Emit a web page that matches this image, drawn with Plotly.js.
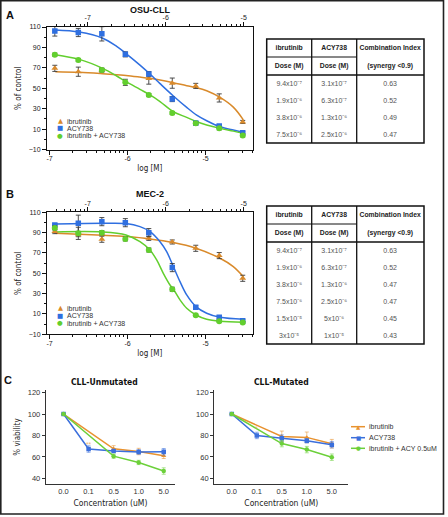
<!DOCTYPE html>
<html><head><meta charset="utf-8">
<script src="https://cdn.plot.ly/plotly-3.0.1.min.js"></script>
<style>html,body{margin:0;padding:0;background:#fff}#chart{width:448px;height:517px}</style>
</head><body><div id="chart"></div>
<script>
// ---------------- DATA ----------------
// ibrutinib dose levels (M) used in panels A and B (bottom axis, log scale)
const doseM = [1.17e-7, 2.34e-7, 4.69e-7, 9.38e-7, 1.875e-6, 3.75e-6, 7.5e-6, 1.5e-5, 3e-5];
const seriesNames = ['ibrutinib', 'ACY738', 'ibrutinib + ACY738'];

// Panel A: OSU-CLL (% of control)
const osuIbr = [69.5, 66.2, 67.8, null, 59.5, 55, 52.3, 40.5, 17];
const osuIbrErr = [3, 4.5, 2, 0, 5.5, 5, 2.5, 4, 1.5];
const osuAcy = [106.1, 104.6, 103.3, 83.2, 63.9, 39.4, 16, 12.9, 6.4];
const osuAcyErr = [5, 4, 7, 2.5, 2.5, 2.5, 1, 1.5, 1];
const osuCombo = [82.9, 77.6, 67.8, 55.8, 43.3, 25.7, 15.6, 10.7, 3.8];
const osuComboErr = [1.5, 1.5, 1.5, 3, 1.5, 1.5, 1.5, 1.5, 1.5];
// fitted curves (x in log10 M)
const osuFitX = [-6.925, -6.618, -6.318, -6.139, -6.019, -5.840, -5.712, -5.583, -5.412, -5.241, -5.113, -4.985, -4.814, -4.644, -4.515];
const osuIbrFit = [66.2, 65.6, 64.2, 63.2, 62.6, 61, 59.7, 58, 55.4, 52.5, 50.5, 47.5, 41, 31.5, 19];
const osuAcyFit = [107, 105, 99, 91, 84, 72.7, 63.9, 54.5, 42.4, 31.2, 23.7, 18.2, 12.3, 9, 7];
const osuComboFit = [82.9, 78.3, 69.5, 62, 56.4, 48.9, 43.5, 37, 27, 21.5, 17.2, 14, 10.7, 8, 5.8];

// Panel B: MEC-2
const mecIbr = [91, 88, 83.5, null, 84.4, 80.8, 74.6, 67.4, 45.1];
const mecIbrErr = [2, 2, 3, 0, 2, 2, 3, 3, 3];
const mecAcy = [97.5, 99.2, 100.8, 99.8, 90, 55.6, 16.6, 6.7, 3.4];
const mecAcyErr = [1, 8, 4, 4, 4, 4, 1.5, 1.5, 1];
const mecCombo = [94.6, 89.3, 90, 83.8, 72.9, 34.3, 8.7, 2.8, 1.5];
const mecComboErr = [2, 6, 2, 2, 2, 2, 1, 1, 1];
const mecIbrFitX = [-6.925, -6.618, -6.318, -6.019, -5.712, -5.412, -5.122, -4.814, -4.644, -4.515];
const mecIbrFit = [89.3, 88.4, 87.4, 86.1, 83.8, 80.2, 74.6, 64.8, 56.6, 46.7];
const mecAcyFitX = [-6.925, -6.318, -6.019, -5.840, -5.712, -5.583, -5.498, -5.412, -5.327, -5.241, -5.122, -4.985, -4.814, -4.515];
const mecAcyFit = [98.5, 99.2, 98.9, 95.9, 91, 81.1, 71.3, 56.6, 41.8, 28.7, 17.2, 10.7, 6.7, 4.8];
const mecComboFitX = [-6.925, -6.318, -6.019, -5.840, -5.712, -5.626, -5.541, -5.455, -5.412, -5.327, -5.241, -5.122, -4.985, -4.814, -4.515];
const mecComboFit = [90.7, 90.7, 87.7, 81.1, 72.9, 63.1, 50, 38.5, 34.3, 23.8, 15.6, 9, 4.8, 2.8, 1.8];

// Tables (combination index)
const tabHeadCol1 = ['ibrutinib', 'Dose\u00A0(M)'];
const tabHeadCol2 = ['ACY738', 'Dose\u00A0(M)'];
const tabHeadCol3 = ['Combination\u00A0Index', '(synergy\u00A0'];
const tabHeadSuffix3 = ['', '<0.9)'];
const osuTabIbr = ['9.4x10\u207B\u2077', '1.9x10\u207B\u2076', '3.8x10\u207B\u2076', '7.5x10\u207B\u2076'];
const osuTabAcy = ['3.1x10\u207B\u2077', '6.3x10\u207B\u2077', '1.3x10\u207B\u2076', '2.5x10\u207B\u2076'];
const osuTabCI = ['0.63', '0.52', '0.49', '0.47'];
const mecTabIbr = ['9.4x10\u207B\u2077', '1.9x10\u207B\u2076', '3.8x10\u207B\u2076', '7.5x10\u207B\u2076', '1.5x10\u207B\u2075', '3x10\u207B\u2075'];
const mecTabAcy = ['3.1x10\u207B\u2077', '6.3x10\u207B\u2077', '1.3x10\u207B\u2076', '2.5x10\u207B\u2076', '5x10\u207B\u2076', '1x10\u207B\u2075'];
const mecTabCI = ['0.63', '0.52', '0.47', '0.47', '0.45', '0.43'];

// Panel C: % viability vs concentration (uM)
const concLabels = ['0.0', '0.1', '0.5', '1.0', '5.0'];
const cNames = ['ibrutinib', 'ACY738', 'ibrutinib + ACY 0.5uM'];
const unmutIbr = [100, null, 67.5, 65, 61];
const unmutIbrErr = [0, 0, 3, 3, 2.5];
const unmutAcy = [100, 67.3, 65.5, 64.6, 64.8];
const unmutAcyErr = [0, 3, 0, 2, 3];
const unmutCombo = [100, null, 60.7, 54.8, 46.8];
const unmutComboErr = [0, 0, 2, 2, 3];
const mutIbr = [100, null, 79.1, 78.2, 72.3];
const mutIbrErr = [0, 0, 5, 5, 4];
const mutAcy = [100, 80, 77.5, 75, 71.4];
const mutAcyErr = [0, 3, 3, 2, 3];
const mutCombo = [100, null, 72.4, 66.8, 59.7];
const mutComboErr = [0, 0, 3, 3, 3];
// significance marks
const unmutSigX = ['1.0', '5.0', '5.0'];
const unmutSigY = [71.4, 79, 73.8];
const unmutSigTxt = ['**', '**', '**'];
const mutSigX = ['1.0', '5.0', '5.0'];
const mutSigY = [86.8, 90.5, 81.2];
const mutSigTxt = ['*', '*', '*'];
const sigSeries = [0, 0, 1];

// ---------------- STYLE / LAYOUT ----------------
const W = 448, H = 517;
const px = x => x / W;
const py = y => 1 - y / H;
const ORANGE = '#d98a2b', BLUE = '#2f6fe0', GREEN = '#62cf2e';
const C_ORANGE = '#e8922f', C_BLUE = '#3b6fdc', C_GREEN = '#6cd03a';
const C_ORANGE_L = 'rgba(232,146,47,0.55)', C_BLUE_L = 'rgba(59,111,220,0.55)', C_GREEN_L = 'rgba(108,208,58,0.55)';
const FONT = 'Liberation Sans, Arial, sans-serif';
const NARROW = 'Liberation Sans Narrow, DejaVu Sans Condensed, Liberation Sans, sans-serif';
const logDose = doseM.map(v => Math.log10(v));
const topShift = 0.49; // ACY738 axis offset (ibrutinib : ACY738 = 3 : 1)

const minorLog = [];
for (let n = -9; n <= -4; n++) for (let k = 2; k <= 9; k++) minorLog.push(n + Math.log10(k));

const traces = [];
function addDosePanel(xa, ya, fits, pts) {
  const cols = [ORANGE, BLUE, GREEN];
  fits.forEach((f, i) => traces.push({
    type: 'scatter', mode: 'lines', x: f[0], y: f[1], xaxis: xa, yaxis: ya,
    line: {color: cols[i], width: 1.5, shape: 'spline', smoothing: 1},
    showlegend: false, hoverinfo: 'skip'
  }));
  const syms = ['triangle-up', 'square', 'circle'];
  const sizes = [6, 5.5, 6];
  pts.forEach((p, i) => traces.push({
    type: 'scatter', mode: 'markers', x: logDose, y: p[0], name: seriesNames[i],
    xaxis: xa, yaxis: ya,
    marker: {symbol: syms[i], size: sizes[i], color: cols[i]},
    error_y: {type: 'data', array: p[1], visible: true, color: '#3a3a3a', thickness: 0.9, width: 2.5},
    showlegend: false
  }));
}
addDosePanel('x', 'y',
  [[osuFitX, osuIbrFit], [osuFitX, osuAcyFit], [osuFitX, osuComboFit]],
  [[osuIbr, osuIbrErr], [osuAcy, osuAcyErr], [osuCombo, osuComboErr]]);
addDosePanel('x3', 'y2',
  [[mecIbrFitX, mecIbrFit], [mecAcyFitX, mecAcyFit], [mecComboFitX, mecComboFit]],
  [[mecIbr, mecIbrErr], [mecAcy, mecAcyErr], [mecCombo, mecComboErr]]);
// anchors for top (ACY738) axes
traces.push({type: 'scatter', x: [], y: [], xaxis: 'x2', yaxis: 'y', showlegend: false, hoverinfo: 'skip'});
traces.push({type: 'scatter', x: [], y: [], xaxis: 'x4', yaxis: 'y2', showlegend: false, hoverinfo: 'skip'});

function addConcPanel(xa, ya, ser) {
  const cols = [C_ORANGE, C_BLUE, C_GREEN];
  const lcols = [C_ORANGE_L, C_BLUE_L, C_GREEN_L];
  const syms = ['triangle-up', 'square', 'circle'];
  ser.forEach((s, i) => traces.push({
    type: 'scatter', mode: 'lines+markers', x: concLabels, y: s[0], name: cNames[i],
    xaxis: xa, yaxis: ya, connectgaps: true,
    line: {color: cols[i], width: 1.5},
    marker: {symbol: syms[i], size: 4.5, color: cols[i]},
    error_y: {type: 'data', array: s[1], visible: true, color: lcols[i], thickness: 1, width: 2},
    showlegend: false
  }));
}
addConcPanel('x5', 'y3', [[unmutIbr, unmutIbrErr], [unmutAcy, unmutAcyErr], [unmutCombo, unmutComboErr]]);
addConcPanel('x6', 'y4', [[mutIbr, mutIbrErr], [mutAcy, mutAcyErr], [mutCombo, mutComboErr]]);

// tables
const TAB = {x0: 266.7, x1: 424, head: 18, row: 17, cw: [45, 45, 67.3], textShift: 2.3};
function addTable(y0, c1, c2, c3) {
  const y1 = y0 + 2 * TAB.head + c1.length * TAB.row;
  traces.push({
    type: 'table',
    domain: {x: [px(TAB.x0), px(TAB.x1)], y: [py(y1 + 3 - TAB.textShift), py(y0 - TAB.textShift)]},
    columnwidth: TAB.cw,
    header: {
      values: [tabHeadCol1, tabHeadCol2, tabHeadCol3],
      suffix: [['', ''], ['', ''], tabHeadSuffix3],
      height: TAB.head, align: 'center',
      font: {family: FONT, size: 6.8, color: '#222', weight: 'bold'},
      fill: {color: 'rgba(0,0,0,0)'}, line: {width: 0, color: 'rgba(0,0,0,0)'}
    },
    cells: {
      values: [c1, c2, c3], height: TAB.row, align: 'center',
      font: {family: FONT, size: 7, color: '#555'},
      fill: {color: 'rgba(0,0,0,0)'}, line: {width: 0, color: 'rgba(0,0,0,0)'}
    }
  });
  return y1;
}
const tabAy0 = 39, tabBy0 = 206;
const tabAy1 = addTable(tabAy0, osuTabIbr, osuTabAcy, osuTabCI);
const tabBy1 = addTable(tabBy0, mecTabIbr, mecTabAcy, mecTabCI);

const shapes = [];
function tableLines(y0, y1) {
  const xa = TAB.x0, xb = TAB.x0 + TAB.cw[0], xc = xb + TAB.cw[1], xd = TAB.x1;
  const L = (x0, ya, x1, yb, w) => shapes.push({type: 'line', xref: 'paper', yref: 'paper',
    x0: px(x0), y0: py(ya), x1: px(x1), y1: py(yb), line: {color: '#111', width: w}});
  shapes.push({type: 'rect', xref: 'paper', yref: 'paper', x0: px(xa), x1: px(xd), y0: py(y0), y1: py(y1),
    line: {color: '#111', width: 1.5}});
  L(xb, y0, xb, y1, 1.3); L(xc, y0, xc, y1, 1.3);
  L(xa, y0 + TAB.head, xc, y0 + TAB.head, 1);
  L(xa, y0 + 2 * TAB.head, xd, y0 + 2 * TAB.head, 1.5);
}
tableLines(tabAy0, tabAy1);
tableLines(tabBy0, tabBy1);
// outer frame
shapes.push({type: 'rect', xref: 'paper', yref: 'paper', x0: px(0.8), x1: px(443.5), y0: py(0.8), y1: py(514),
  line: {color: '#222', width: 1.6}});

const annotations = [];
function txt(x, y, text, size, opts) {
  annotations.push(Object.assign({xref: 'paper', yref: 'paper', x: px(x), y: py(y), text: text, showarrow: false,
    xanchor: 'center', yanchor: 'middle', font: {family: FONT, size: size, color: '#111'}}, opts || {}));
}
txt(10, 15, '<b>A</b>', 11);
txt(10, 194, '<b>B</b>', 11);
txt(8, 380, '<b>C</b>', 11);
txt(150, 10, '<b>OSU-CLL</b>', 9);
txt(150, 194, '<b>MEC-2</b>', 9);
txt(104, 381.7, '<b>CLL-Unmutated</b>', 8.5, {font: {family: NARROW, size: 8.5, color: '#111'}});
txt(281.7, 382.3, '<b>CLL-Mutated</b>', 8.5, {font: {family: NARROW, size: 8.5, color: '#111'}});

// in-plot legends for A and B
const legSyms = ['\u25B2', '\u25A0', '\u25CF'];
const legCols = [ORANGE, BLUE, GREEN];
[[121.5, 128.5, 135.5], [308, 315.5, 323]].forEach(ys => {
  ys.forEach((yy, i) => {
    txt(60, yy, legSyms[i], 7, {font: {family: 'DejaVu Sans, sans-serif', size: 6.5, color: legCols[i]}});
    txt(64.5, yy, seriesNames[i], 7, {xanchor: 'left', font: {family: FONT, size: 7, color: '#333'}});
  });
});
// legend for C
const cCols = [C_ORANGE, C_BLUE, C_GREEN];
[426.7, 437.7, 448.3].forEach((yy, i) => {
  shapes.push({type: 'line', xref: 'paper', yref: 'paper', x0: px(351), x1: px(365), y0: py(yy), y1: py(yy),
    line: {color: cCols[i], width: 1.5}});
  txt(358, yy, legSyms[i], 5.5, {font: {family: 'DejaVu Sans, sans-serif', size: 5.5, color: cCols[i]}});
  txt(367, yy, cNames[i], 7, {xanchor: 'left', font: {family: FONT, size: 7, color: '#333'}});
});
// significance marks in C
const sigCols = ['#f0b46a', '#7d9de8'];
unmutSigX.forEach((x, i) => annotations.push({xref: 'x5', yref: 'y3', x: x, y: unmutSigY[i], text: unmutSigTxt[i],
  showarrow: false, font: {family: FONT, size: 6.5, color: sigCols[sigSeries[i]]}}));
mutSigX.forEach((x, i) => annotations.push({xref: 'x6', yref: 'y4', x: x, y: mutSigY[i], text: mutSigTxt[i],
  showarrow: false, font: {family: FONT, size: 6.5, color: sigCols[sigSeries[i]]}}));

const tickF = {family: FONT, size: 7, color: '#222'};
const axTitleF = {family: NARROW, size: 8, color: '#222'};
function botAxis(dom, anchor, title) {
  return {domain: dom, anchor: anchor, range: [-7.032, -4.395], tickmode: 'array', tickvals: [-7, -6, -5],
    ticktext: ['-7', '-6', '-5'], ticks: 'outside', ticklen: 4, tickwidth: 1, tickcolor: '#111', ticklabelstandoff: -2,
    minor: {tickmode: 'array', tickvals: minorLog, ticks: 'outside', ticklen: 2, tickcolor: '#111'},
    showline: true, linecolor: '#111', linewidth: 1, showgrid: false, zeroline: false, tickfont: tickF,
    title: {text: title, font: axTitleF, standoff: 4}};
}
function topAxis(over, anchor) {
  return {overlaying: over, anchor: anchor, side: 'top', range: [-7.032 - topShift, -4.395 - topShift],
    tickmode: 'array', tickvals: [-7, -6, -5], ticktext: ['-7', '-6', '-5'], ticks: 'outside', ticklen: 4,
    ticklabelstandoff: -1,
    tickcolor: '#111', minor: {tickmode: 'array', tickvals: minorLog, ticks: 'outside', ticklen: 2, tickcolor: '#111'},
    showline: true, linecolor: '#111', linewidth: 1, showgrid: false, zeroline: false, tickfont: tickF};
}
function pctAxis(dom, anchor) {
  return {domain: dom, anchor: anchor, range: [-10, 110], tickmode: 'array', tickvals: [-10, 10, 30, 50, 70, 90, 110],
    ticks: 'outside', ticklen: 4, tickcolor: '#111', minor: {dtick: 10, tick0: 0, ticks: 'outside', ticklen: 2, tickcolor: '#111'},
    showline: true, mirror: true, linecolor: '#111', linewidth: 1, showgrid: false, zeroline: false, tickfont: tickF,
    title: {text: '% of control', font: axTitleF, standoff: 5}};
}
const cTick = {family: FONT, size: 7.5, color: '#333'};
function concX(dom, anchor, rng) {
  return {domain: dom, anchor: anchor, type: 'category', categoryorder: 'array', categoryarray: concLabels,
    range: rng, ticks: '', showline: true, linecolor: '#333', linewidth: 1.2, showgrid: false, zeroline: false,
    tickfont: cTick, title: {text: 'Concentration (uM)', font: {family: NARROW, size: 8.5, color: '#222'}, standoff: 4}};
}
function concY(dom, anchor, title) {
  return {domain: dom, anchor: anchor, range: [34.7, 122.4], tickmode: 'array', tickvals: [40, 60, 80, 100, 120],
    ticks: 'outside', ticklen: 3, tickcolor: '#333', showline: true, linecolor: '#333', linewidth: 1.2,
    showgrid: false, zeroline: false, tickfont: cTick,
    title: {text: title, font: {family: NARROW, size: 8, color: '#222'}, standoff: 6}};
}
const domX = [px(47), px(252.7)];
const cY = [py(484), py(390)];
const layout = {
  width: W, height: H, margin: {l: 0, r: 0, t: 0, b: 0}, paper_bgcolor: '#fff', plot_bgcolor: '#fff',
  showlegend: false, font: {family: FONT, size: 7, color: '#222'},
  xaxis: botAxis(domX, 'y', 'log [M]'),
  xaxis2: topAxis('x', 'y'),
  yaxis: pctAxis([py(149.5), py(27)], 'x'),
  xaxis3: botAxis(domX, 'y2', 'log [M]'),
  xaxis4: topAxis('x3', 'y2'),
  yaxis2: pctAxis([py(334.3), py(212.3)], 'x3'),
  xaxis5: concX([px(46), px(175)], 'y3', [-0.7, 4.45]),
  yaxis3: concY(cY, 'x5', '% viability'),
  xaxis6: concX([px(214.3), px(348.3)], 'y4', [-0.7, 4.66]),
  yaxis4: concY(cY, 'x6', ''),
  shapes: shapes, annotations: annotations
};
Plotly.newPlot('chart', traces, layout, {staticPlot: true, displayModeBar: false});
</script></body></html>
